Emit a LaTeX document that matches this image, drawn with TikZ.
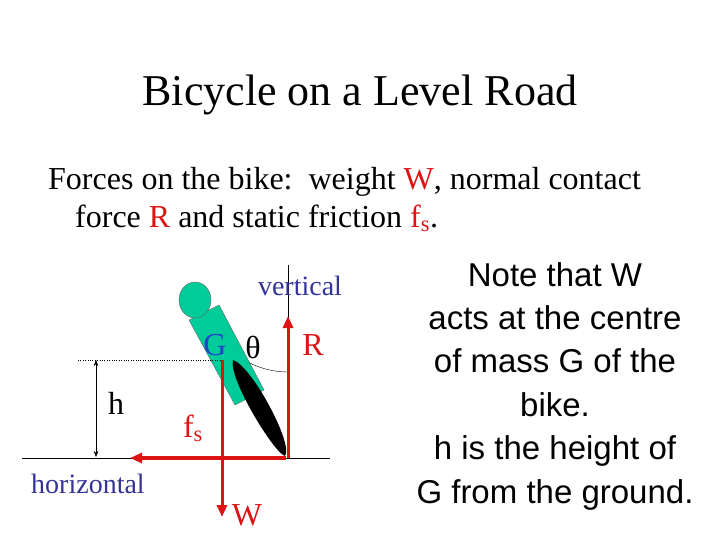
\documentclass[tikz,border=0pt]{standalone}
\usepackage{fontspec}
\setmainfont{Liberation Serif}
\newfontfamily\arialf{Liberation Sans}
\usetikzlibrary{arrows.meta}
\definecolor{fred}{RGB}{222,20,20}
\definecolor{navy}{RGB}{51,51,153}
\definecolor{gblue}{RGB}{30,70,200}
\definecolor{teal2}{RGB}{0,204,153}
\begin{document}
\begin{tikzpicture}[x=1pt,y=-1pt,
  force/.style={fred,line width=3pt,-{Triangle[length=12pt,width=10pt]}},
  lbl/.style={inner sep=0pt,font=\fontsize{32}{34}\selectfont},
  small/.style={inner sep=0pt,font=\fontsize{28}{30}\selectfont,navy}]
\useasboundingbox (0,0) rectangle (720,540);
\node[inner sep=0pt,font=\fontsize{44}{48}\selectfont] (title) at (360,95) {Bicycle on a Level Road};
\node[lbl,anchor=west] (l1) at (48,182) {Forces on the bike:\ \ weight \textcolor{fred}{W}, normal contact};
\node[lbl,anchor=west] (l2) at (75,218) {force \textcolor{fred}{R} and static friction \textcolor{fred}{f\textsubscript{s}}.};
\node[inner sep=0pt,font=\arialf\fontsize{33}{43.4}\selectfont,align=center] (note) at (555,386) {Note that W\\acts at the centre\\of mass G of the\\bike.\\h is the height of\\G from the ground.};
% ground and vertical
\coordinate (g1) at (22,458); \coordinate (g2) at (330,458);
\draw (g1) -- (g2);
\coordinate (v1) at (288,458); \coordinate (v2) at (288,265);
\draw (v1) -- (v2);
% body
\filldraw[fill=teal2,draw=black!60] (189,320) -- (219,305) -- (264,390) -- (235,405) -- cycle;
\filldraw[fill=teal2,draw=black!60] (195,300) ellipse (16 and 18);
% wheel
\fill[black] (233,360) .. controls (252,366) and (294,445) .. (285,456) .. controls (274,453) and (228,378) .. (233,360) -- cycle;
% angle arc
\draw (288,372) arc[start angle=90,end angle=117,radius=86];
% dotted h line
\coordinate (d1) at (78,360); \coordinate (G0) at (222,360);
\draw[dotted] (d1) -- (G0);
\coordinate (h1) at (96,360); \coordinate (h2) at (96,457);
\draw[{Stealth[length=6pt]}-{Stealth[length=6pt]}] (h1) -- (h2);
% forces
\coordinate (Rb) at (288,458); \coordinate (Rt) at (288,316);
\draw[force] (Rb) -- (Rt);
\coordinate (Wt) at (222,360); \coordinate (Wb) at (222,517);
\draw[force] (Wt) -- (Wb);
\coordinate (fa) at (286,458); \coordinate (fb) at (130,458);
\draw[force,line width=4.5pt] (fa) -- (fb);
% labels
\node[small] (vert) at (300,286) {vertical};
\node[small] (hor) at (88,484) {horizontal};
\node[lbl] (hl) at (116,403) {h};
\node[lbl,gblue] (Gl) at (215,345) {G};
\node[lbl] (th) at (253,347) {θ};
\node[lbl,fred] (Rl) at (313,345) {R};
\node[lbl,fred] (fl) at (193,428) {f\textsubscript{s}};
\node[lbl,fred] (Wl) at (247,515) {W};
\end{tikzpicture}
\end{document}
